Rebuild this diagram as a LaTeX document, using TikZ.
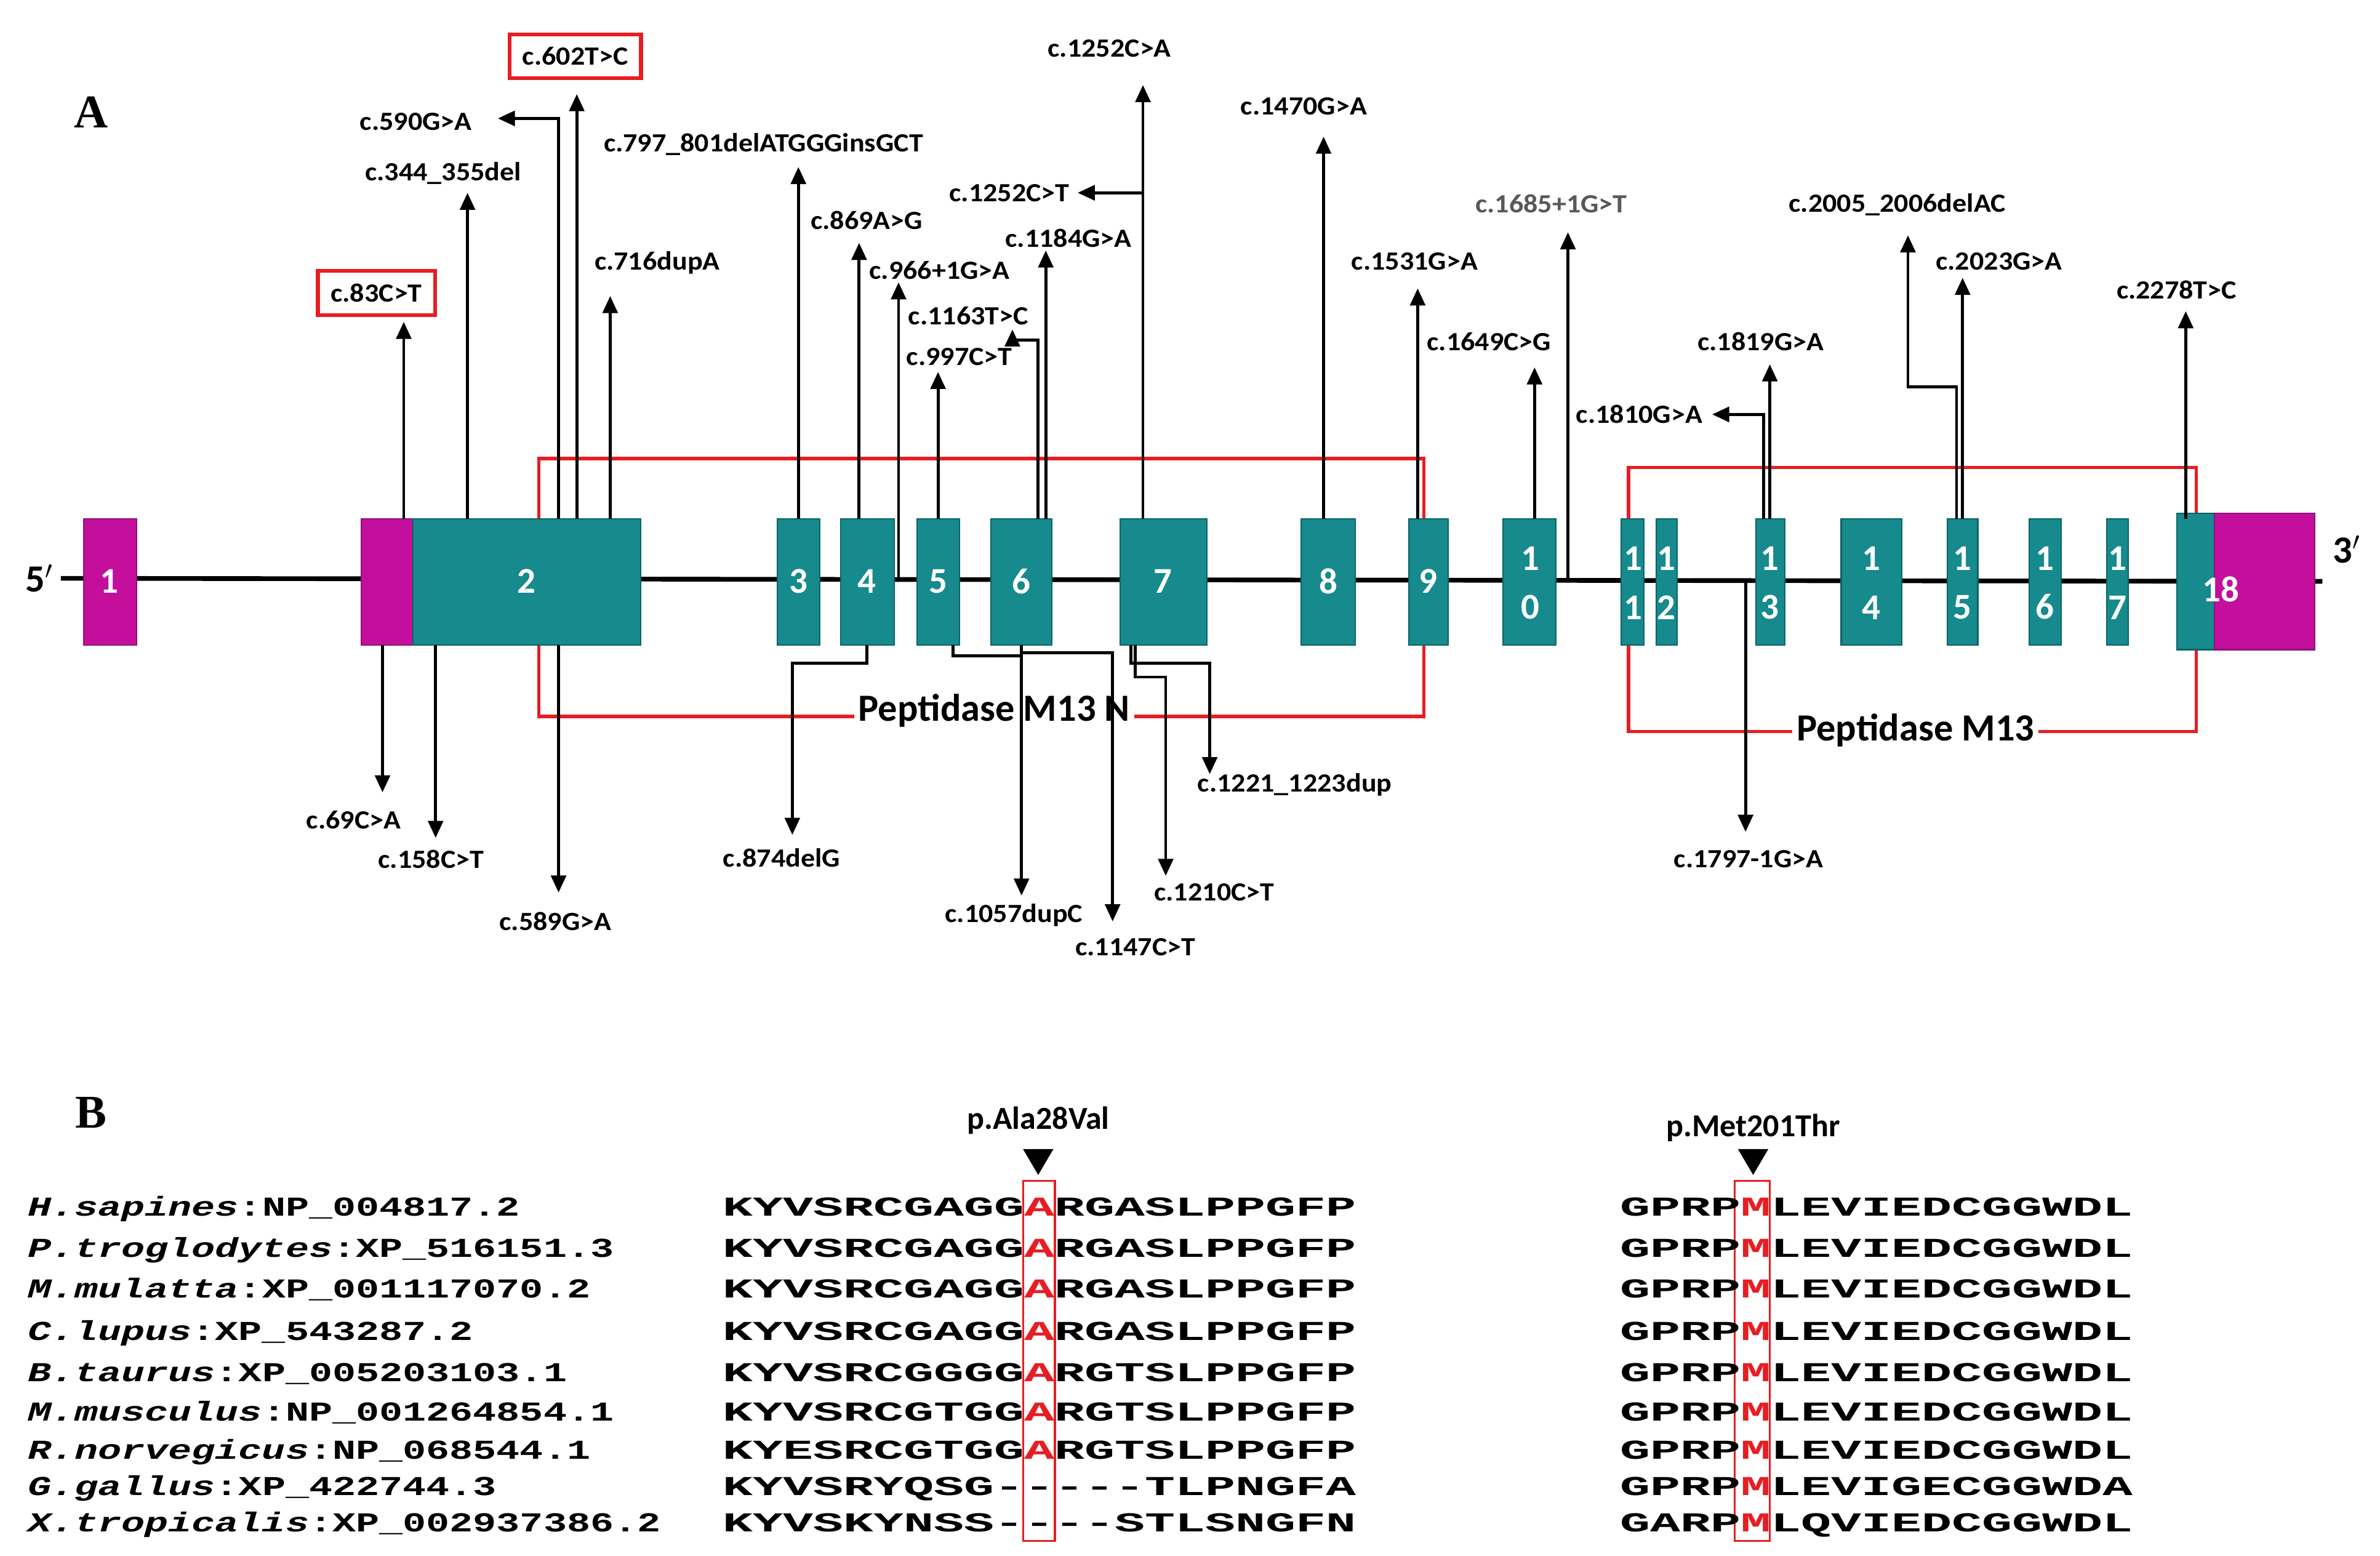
\documentclass[tikz,border=0pt]{standalone}
\usepackage{fontspec}
\setmainfont{Carlito}
\newfontfamily\seqf{Liberation Mono}[FakeStretch=1.84]
\newfontfamily\namef{Liberation Mono}[FakeStretch=1.43]
\newfontfamily\labf{Carlito}[FakeStretch=1.08]
\usetikzlibrary{arrows.meta}
\definecolor{teal1}{RGB}{22,138,140}
\definecolor{tealdk}{RGB}{12,100,102}
\definecolor{mag}{RGB}{196,14,156}
\definecolor{magdk}{RGB}{140,20,120}
\definecolor{redb}{RGB}{230,30,35}
\begin{document}
\begin{tikzpicture}[x=0.025cm,y=-0.025cm,
  ex/.style={fill=teal1,draw=tealdk,line width=0.6pt},
  mx/.style={fill=mag,draw=magdk,line width=0.6pt},
  num/.style={text=white,font=\fontsize{17}{19}\selectfont\bfseries,inner sep=0,align=center},
  lab/.style={font=\labf\fontsize{12.3}{14}\selectfont\bfseries,inner sep=1pt},
  ar/.style={line width=1.4pt,-{Triangle[length=8pt,width=7pt]}},
  dom/.style={draw=redb,line width=1.6pt},
  domlab/.style={font=\fontsize{18}{20}\selectfont\bfseries,fill=white,inner sep=2pt},
  rbox/.style={draw=redb,line width=1.8pt,fill=white,inner sep=6pt,font=\labf\fontsize{12.3}{14}\selectfont\bfseries},
  seq/.style={anchor=base west,inner sep=0,font=\seqf\bfseries\fontsize{12.8}{14}\selectfont},
  nm/.style={anchor=base west,inner sep=0,font=\namef\bfseries\fontsize{12.8}{14}\selectfont},
  mut/.style={font=\fontsize{15}{17}\selectfont\bfseries,inner sep=0}]
\useasboundingbox (0,0) rectangle (1568,1025);
% panel letters
\node[font=\fontsize{22}{24}\selectfont\bfseries] (A) at (60,74) {\fontspec{Liberation Serif}A};
\node[font=\fontsize{22}{24}\selectfont\bfseries] (B) at (60,733) {\fontspec{Liberation Serif}B};
% main line
\node[font=\fontsize{18}{20}\selectfont\bfseries] (p5) at (26,381) {5$'$};
\node[font=\fontsize{18}{20}\selectfont\bfseries] (p3) at (1546,362) {3$'$};
\draw[line width=2.2pt] (p5.east) -- (1530,383);
% domains
\draw[dom] (355,302) rectangle (938,472);
\node[domlab] (d1) at (655,468) {Peptidase M13 N};
\draw[dom] (1073,308) rectangle (1447,482);
\node[domlab] (d2) at (1262,481) {Peptidase M13};
% exons
\path[mx] (55,342) rectangle (90,425); \node[num] (e1) at (72,383) {1};
\path[mx] (238,342) rectangle (272,425);
\path[ex] (272,342) rectangle (422,425); \node[num] (e2) at (347,383) {2};
\path[ex] (512,342) rectangle (540,425); \node[num] (e3) at (526,383) {3};
\path[ex] (554,342) rectangle (589,425); \node[num] (e4) at (571,383) {4};
\path[ex] (604,342) rectangle (632,425); \node[num] (e5) at (618,383) {5};
\path[ex] (653,342) rectangle (693,425); \node[num] (e6) at (673,383) {6};
\path[ex] (738,342) rectangle (795,425); \node[num] (e7) at (766,383) {7};
\path[ex] (857,342) rectangle (893,425); \node[num] (e8) at (875,383) {8};
\path[ex] (928,342) rectangle (954,425); \node[num] (e9) at (941,383) {9};
\path[ex] (990,342) rectangle (1025,425); \node[num] (e10) at (1008,384) {1\\[4pt]0};
\path[ex] (1068,342) rectangle (1083,425); \node[num] (e11) at (1076,384) {1\\[4pt]1};
\path[ex] (1091,342) rectangle (1105,425); \node[num] (e12) at (1098,384) {1\\[4pt]2};
\path[ex] (1157,342) rectangle (1176,425); \node[num] (e13) at (1166,384) {1\\[4pt]3};
\path[ex] (1213,342) rectangle (1253,425); \node[num] (e14) at (1233,384) {1\\[4pt]4};
\path[ex] (1283,342) rectangle (1303,425); \node[num] (e15) at (1293,384) {1\\[4pt]5};
\path[ex] (1337,342) rectangle (1358,425); \node[num] (e16) at (1347,384) {1\\[4pt]6};
\path[ex] (1388,342) rectangle (1402,425); \node[num] (e17) at (1395,384) {1\\[4pt]7};
\path[ex] (1434,338) rectangle (1459,428);
\path[mx] (1459,338) rectangle (1525,428); \node[num] (e18) at (1463,388) {18};
% up arrows
\node[rbox] (l83) at (248,193) {c.83C>T};
\draw[ar] (266,342) -- (266,212);
\node[lab] (l344) at (292,114) {c.344\_355del};
\draw[ar] (308,342) -- (308,127);
\node[lab] (l590) at (274,80) {c.590G>A};
\draw[ar] (368,342) -- (368,78) -- (328,78);
\node[rbox] (l602) at (379,37) {c.602T>C};
\draw[ar] (380,342) -- (380,62);
\node[lab] (l716) at (433,173) {c.716dupA};
\draw[ar] (402,342) -- (402,195);
\node[lab] (l797) at (503,95) {c.797\_801delATGGGinsGCT};
\draw[ar] (526,342) -- (526,110);
\node[lab] (l869) at (571,145) {c.869A>G};
\draw[ar] (566,342) -- (566,160);
\node[lab] (l966) at (619,178) {c.966+1G>A};
\draw[ar] (592,383) -- (592,186);
\node[lab] (l997) at (632,235) {c.997C>T};
\draw[ar] (618,342) -- (618,245);
\node[lab] (l1163) at (638,208) {c.1163T>C};
\draw[ar] (684,342) -- (684,224) -- (667,224) -- (667,217);
\node[lab] (l1184) at (704,157) {c.1184G>A};
\draw[ar] (689,342) -- (689,165);
\node[lab] (l1252a) at (731,32) {c.1252C>A};
\draw[ar] (753,342) -- (753,56);
\node[lab] (l1252t) at (665,127) {c.1252C>T};
\draw[ar] (753,127) -- (710,127);
\node[lab] (l1470) at (859,70) {c.1470G>A};
\draw[ar] (872,342) -- (872,90);
\node[lab] (l1531) at (932,172) {c.1531G>A};
\draw[ar] (934,342) -- (934,190);
\node[lab] (l1649) at (981,225) {c.1649C>G};
\draw[ar] (1011,342) -- (1011,242);
\node[lab,text=black!65] (l1685) at (1022,134) {c.1685+1G>T};
\draw[ar] (1033,383) -- (1033,153);
\node[lab] (l1810) at (1080,273) {c.1810G>A};
\draw[ar] (1162,342) -- (1162,273) -- (1128,273);
\node[lab] (l1819) at (1160,225) {c.1819G>A};
\draw[ar] (1166,342) -- (1166,240);
\node[lab] (l2005) at (1250,135) {c.2005\_2006delAC};
\draw[ar] (1289,342) -- (1289,255) -- (1257,255) -- (1257,155);
\node[lab] (l2023) at (1317,172) {c.2023G>A};
\draw[ar] (1293,342) -- (1293,183);
\node[lab] (l2278) at (1434,191) {c.2278T>C};
\draw[ar] (1440,342) -- (1440,205);
% down arrows
\node[lab] (l69) at (233,540) {c.69C>A};
\draw[ar] (252,425) -- (252,522);
\node[lab] (l158) at (284,566) {c.158C>T};
\draw[ar] (287,425) -- (287,552);
\node[lab] (l589) at (366,607) {c.589G>A};
\draw[ar] (368,425) -- (368,588);
\node[lab] (l874) at (515,565) {c.874delG};
\draw[ar] (571,425) -- (571,437) -- (522,437) -- (522,550);
\node[lab] (l1057) at (668,603) {c.1057dupC};
\draw[ar] (628,425) -- (628,432) -- (673,432) -- (673,590);
\node[lab] (l1147) at (748,624) {c.1147C>T};
\draw[ar] (673,425) -- (673,430) -- (733,430) -- (733,607);
\node[lab] (l1210) at (800,588) {c.1210C>T};
\draw[ar] (748,425) -- (748,446) -- (768,446) -- (768,577);
\node[lab] (l1221) at (853,517) {c.1221\_1223dup};
\draw[ar] (745,425) -- (745,437) -- (797,437) -- (797,510);
\node[lab] (l1797) at (1152,566) {c.1797-1G>A};
\draw[ar] (1150,383) -- (1150,548);
% panel B
\node[mut] (m1) at (684,738) {p.Ala28Val};
\node[mut] (m2) at (1155,743) {p.Met201Thr};
\fill (674,757) -- (694,757) -- (684,774) -- cycle;
\fill (1145,757) -- (1165,757) -- (1155,774) -- cycle;
\draw[redb,line width=0.9pt] (674,778) rectangle (695,1015);
\draw[redb,line width=0.9pt] (1143,778) rectangle (1166,1015);
\def\r#1#2#3#4#5{%
  \node[nm] at (18,#1) {\itshape #2\upshape :#3};
  \node[seq] at (476,#1) {#4};
  \node[seq] at (1067,#1) {#5};}
\r{801}{H.sapines}{NP\_004817.2}{KYVSRCGAGG\textcolor{redb}{A}RGASLPPGFP}{GPRP\textcolor{redb}{M}LEVIEDCGGWDL}
\r{828}{P.troglodytes}{XP\_516151.3}{KYVSRCGAGG\textcolor{redb}{A}RGASLPPGFP}{GPRP\textcolor{redb}{M}LEVIEDCGGWDL}
\r{855}{M.mulatta}{XP\_001117070.2}{KYVSRCGAGG\textcolor{redb}{A}RGASLPPGFP}{GPRP\textcolor{redb}{M}LEVIEDCGGWDL}
\r{883}{C.lupus}{XP\_543287.2}{KYVSRCGAGG\textcolor{redb}{A}RGASLPPGFP}{GPRP\textcolor{redb}{M}LEVIEDCGGWDL}
\r{910}{B.taurus}{XP\_005203103.1}{KYVSRCGGGG\textcolor{redb}{A}RGTSLPPGFP}{GPRP\textcolor{redb}{M}LEVIEDCGGWDL}
\r{936}{M.musculus}{NP\_001264854.1}{KYVSRCGTGG\textcolor{redb}{A}RGTSLPPGFP}{GPRP\textcolor{redb}{M}LEVIEDCGGWDL}
\r{961}{R.norvegicus}{NP\_068544.1}{KYESRCGTGG\textcolor{redb}{A}RGTSLPPGFP}{GPRP\textcolor{redb}{M}LEVIEDCGGWDL}
\r{985}{G.gallus}{XP\_422744.3}{KYVSRYQSG-----TLPNGFA}{GPRP\textcolor{redb}{M}LEVIGECGGWDA}
\r{1009}{X.tropicalis}{XP\_002937386.2}{KYVSKYNSS----STLSNGFN}{GARP\textcolor{redb}{M}LQVIEDCGGWDL}
\end{tikzpicture}
\end{document}
